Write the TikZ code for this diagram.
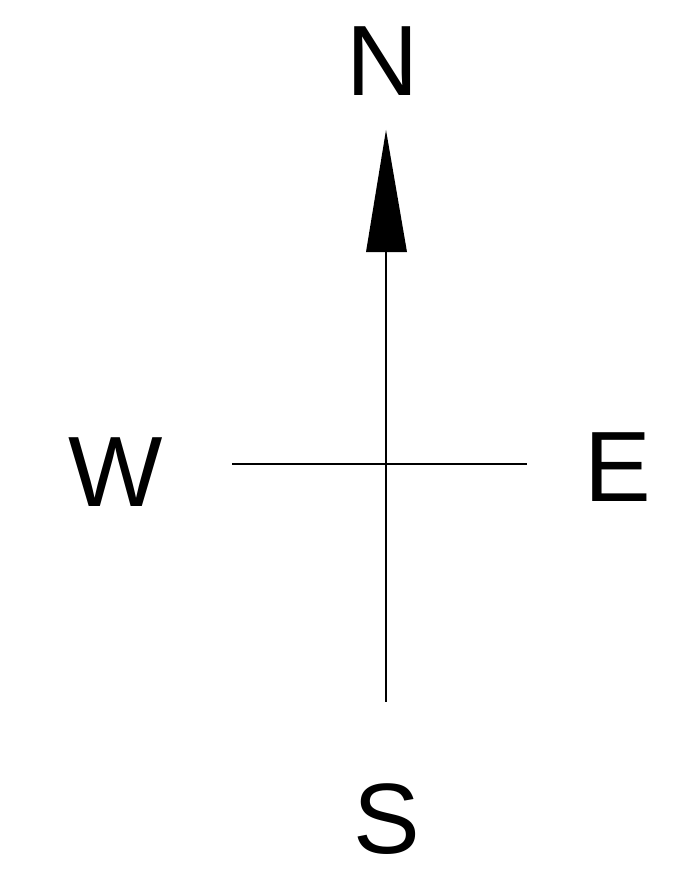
\documentclass[tikz,border=0pt]{standalone}
\usepackage{fontspec}
\setmainfont{Liberation Sans}
\begin{document}
\begin{tikzpicture}[x=1pt,y=-1pt,
  letter/.style={inner sep=0pt,font=\fontsize{100}{100}\selectfont},
  axis/.style={line width=2pt,draw=black}]
\useasboundingbox (0,0) rectangle (673,869);
\node[letter] (N) at (383,61) {N};
\node[letter] (W) at (116,472) {W};
\node[letter] (E) at (618,467) {E};
\node[letter] (S) at (387,819) {S};
\coordinate (tip) at (386,130);
\coordinate (base) at (386,252);
\coordinate (bot) at (386,702);
\coordinate (left) at (232,464);
\coordinate (right) at (527,464);
\draw[axis] (base) -- (bot);
\draw[axis] (left) -- (right);
\fill[black] (tip) -- (366,252) -- (407,252) -- cycle;
\end{tikzpicture}
\end{document}
